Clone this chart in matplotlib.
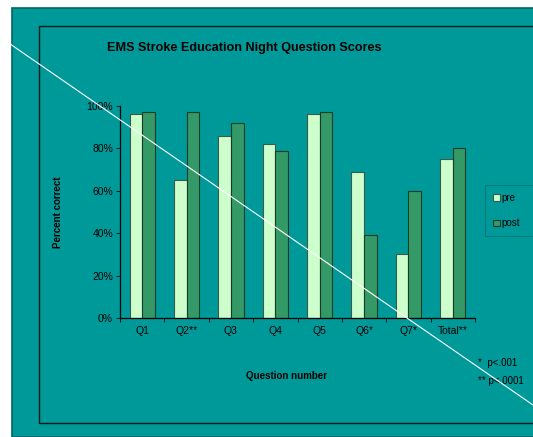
import numpy as np
from matplotlib import pyplot as plt
from matplotlib.patches import Rectangle
from matplotlib.lines import Line2D

plt.rcParams['font.family'] = ['Liberation Sans', 'DejaVu Sans']

categories = ['Q1', 'Q2**', 'Q3', 'Q4', 'Q5', 'Q6*', 'Q7*', 'Total**']
pre = [96, 65, 86, 82, 96, 69, 30, 75]
post = [97, 97, 92, 79, 97, 39, 60, 80]
yticks = [0, 20, 40, 60, 80, 100]

teal = '#009999'
pre_color = '#ccffcc'
post_color = '#339966'

W, H = 533, 437
fig = plt.figure(figsize=(W / 100, H / 100), dpi=100)
fig.patch.set_facecolor('white')

# teal slide background
fig.patches.append(Rectangle((12 / W, 0), 1, 1 - 8 / H, transform=fig.transFigure,
                             facecolor=teal, edgecolor='#006666', linewidth=1.2, zorder=-2))
# inner chart frame
fig.patches.append(Rectangle((39 / W, 1 - 423 / H), 1, (423 - 26) / H, transform=fig.transFigure,
                             facecolor='none', edgecolor='#0a1a1a', linewidth=1.0, zorder=-1))

ax = fig.add_axes([120 / W, 1 - 318 / H, (475 - 120) / W, (318 - 106) / H])
ax.set_facecolor('none')

x = np.arange(len(categories))
w = 0.285
ax.bar(x - w / 2, pre, w, color=pre_color, edgecolor='#3a5a4a', linewidth=0.8, label='pre')
ax.bar(x + w / 2, post, w, color=post_color, edgecolor='#1a3a2a', linewidth=0.8, label='post')

ax.set_xlim(-0.5, len(categories) - 0.5)
ax.set_ylim(0, 100)
ax.set_yticks(yticks)
ax.set_yticklabels([f'{v}%' for v in yticks], fontsize=7.5)
ax.set_xticks(x)
ax.set_xticklabels(categories, fontsize=7.5)
ax.set_xticks(np.arange(-0.5, len(categories)), minor=True)
ax.tick_params(axis='x', which='major', length=0, pad=6)
ax.tick_params(axis='x', which='minor', length=3, direction='out', width=0.6)
ax.tick_params(axis='y', length=3, direction='out', width=0.6, pad=2)
for s in ['top', 'right']:
    ax.spines[s].set_visible(False)
for s in ['left', 'bottom']:
    ax.spines[s].set_color('black')
    ax.spines[s].set_linewidth(0.9)

fig.text(244 / W, 1 - 48 / H, 'EMS Stroke Education Night Question Scores',
         ha='center', va='center', fontsize=9.1, fontweight='bold')
fig.text(58 / W, 1 - 212 / H, 'Percent correct', rotation=90,
         ha='center', va='center', fontsize=7, fontweight='bold')
fig.text(287 / W, 1 - 376 / H, 'Question number',
         ha='center', va='center', fontsize=7, fontweight='bold')
fig.text(478 / W, 1 - 363 / H, '*  p<.001', ha='left', va='center', fontsize=7)
fig.text(478 / W, 1 - 381 / H, '** p<.0001', ha='left', va='center', fontsize=7)

leg = fig.legend(loc='upper left', bbox_to_anchor=(485 / W, 1 - 237 / H, 60 / W, 52 / H),
                 mode='expand', fontsize=7, frameon=True, fancybox=False,
                 handlelength=0.7, handleheight=0.7, handletextpad=0.2,
                 labelspacing=1.6, borderpad=0.8, borderaxespad=0)
leg.get_frame().set_facecolor(teal)
leg.get_frame().set_edgecolor('#007070')
leg.get_frame().set_linewidth(0.8)

# white diagonal line across the slide
fig.lines.append(Line2D([0, 1], [1 - 37 / H, 1 - 405 / H], transform=fig.transFigure,
                        color='white', linewidth=0.8, zorder=10))

fig.savefig('out.png', dpi=100)
